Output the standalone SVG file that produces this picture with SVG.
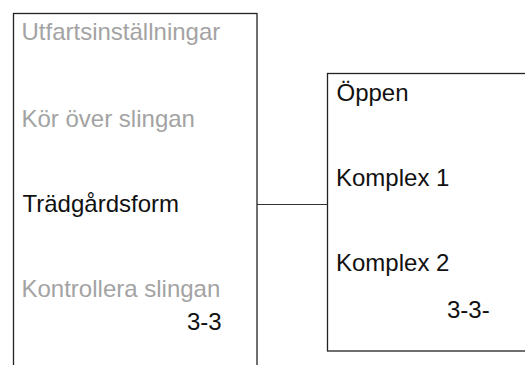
<svg xmlns="http://www.w3.org/2000/svg" width="525" height="365" viewBox="0 0 525 365">
<style>
.box{fill:#fff;stroke:#222;stroke-width:1.3}
.t{font-family:"Liberation Sans",Arial,sans-serif;font-size:24px;fill:#111}
.g{fill:#a3a3a3}
.c{stroke:#333;stroke-width:1.2;fill:none}
</style>
<rect width="525" height="365" fill="#fff"/>
<g id="menu">
<rect class="box" x="13.5" y="13.5" width="243.5" height="360"/>
<text class="t g" x="21.5" y="39.5">Utfartsinställningar</text>
<text class="t g" x="21.5" y="126.5">Kör över slingan</text>
<text class="t" x="22.5" y="211.5">Trädgårdsform</text>
<text class="t g" x="21.5" y="296.5">Kontrollera slingan</text>
<text class="t" x="187" y="330">3-3</text>
</g>
<g id="submenu">
<rect class="box" x="327.5" y="73.5" width="210" height="277.5"/>
<text class="t" x="336.5" y="101">Öppen</text>
<text class="t" x="336" y="186">Komplex 1</text>
<text class="t" x="336" y="271">Komplex 2</text>
<text class="t" x="447" y="317.5">3-3-</text>
</g>
<g id="connectors">
<line class="c" x1="257" y1="204.5" x2="327.5" y2="204.5"/>
</g>
</svg>
